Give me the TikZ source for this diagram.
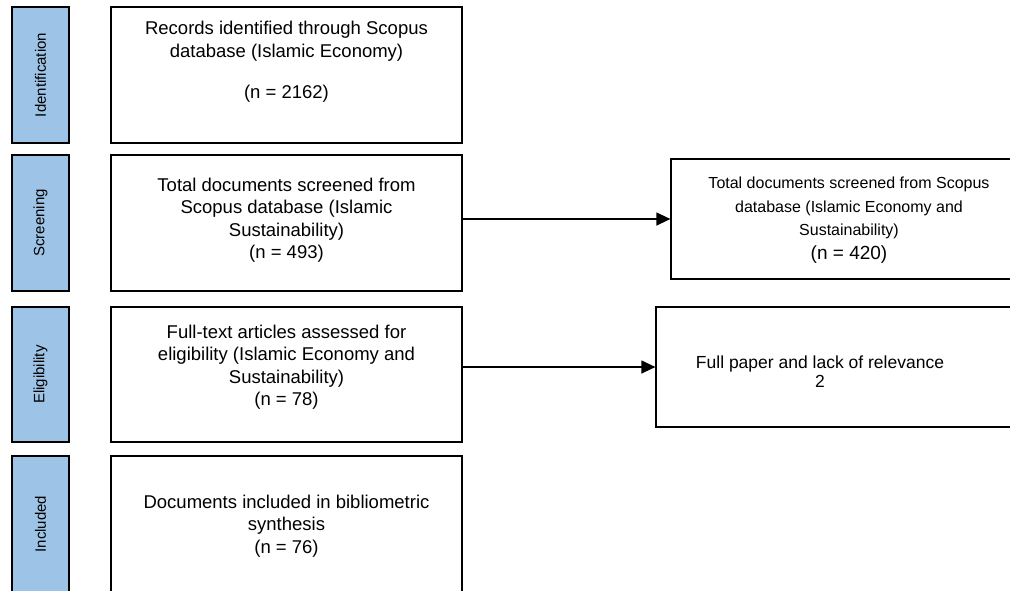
\documentclass[tikz,border=0pt]{standalone}
\usepackage{fontspec}
\setmainfont{Liberation Sans}
\usetikzlibrary{arrows.meta}
\definecolor{phaseblue}{HTML}{9DC3E6}
\begin{document}
\begin{tikzpicture}[x=1pt,y=-1pt,
  box/.style={draw=black, line width=1.2pt, fill=white, inner sep=0pt},
  phase/.style={draw=black, line width=1.2pt, fill=phaseblue, inner sep=0pt,
    rotate=90, minimum height=57pt, font=\fontsize{15}{18}\selectfont},
  txt/.style={align=center, inner sep=0pt, text=black,
    font=\fontsize{18.5}{22.5}\selectfont},
  flow/.style={line width=1.2pt, -{Triangle[length=14pt,width=13pt]}}]
\clip (0,0) rectangle (1010,590);
\fill[white] (0,0) rectangle (1010,590);
% phase labels
\node[phase, minimum width=136pt] (p1) at (40.5,75) {Identification};
\node[phase, minimum width=136pt] (p2) at (40.5,223) {Screening};
\node[phase, minimum width=135pt] (p3) at (40.5,374.5) {Eligibility};
\node[phase, minimum width=136pt] (p4) at (40.5,524) {Included};
% main boxes
\node[box, minimum width=351pt, minimum height=136pt] (m1) at (286.5,75) {};
\node[box, minimum width=351pt, minimum height=136pt] (m2) at (286.5,223) {};
\node[box, minimum width=351pt, minimum height=135pt] (m3) at (286.5,374.5) {};
\node[box, minimum width=351pt, minimum height=136pt] (m4) at (286.5,524) {};
% right boxes
\node[box, minimum width=344pt, minimum height=120pt] (r1) at (843,219) {};
\node[box, minimum width=359pt, minimum height=120pt] (r2) at (835.5,367) {};
% texts
\node[txt] (t1) at (286.5,62) {Records identified through Scopus\\database (Islamic Economy)\\[19pt](n = 2162)};
\node[txt] (t2) at (286.5,220) {Total documents screened from\\Scopus database (Islamic\\Sustainability)\\(n = 493)};
\node[txt] (t3) at (286.5,367) {Full-text articles assessed for\\eligibility (Islamic Economy and\\Sustainability)\\(n = 78)};
\node[txt] (t4) at (286.5,526) {Documents included in bibliometric\\synthesis\\(n = 76)};
\node[txt, font=\fontsize{16}{23.5}\selectfont] (t5) at (849,220) {Total documents screened from Scopus\\database (Islamic Economy and\\Sustainability)\\{\fontsize{19}{23}\selectfont (n = 420)}};
\node[txt, font=\fontsize{17.5}{19}\selectfont] (t6) at (820,372) {Full paper and lack of relevance\\2};
% connectors
\draw[flow] (m2.east |- r1.west) -- (r1.west);
\draw[flow] (m3.east |- r2.west) -- (r2.west);
\end{tikzpicture}
\end{document}
